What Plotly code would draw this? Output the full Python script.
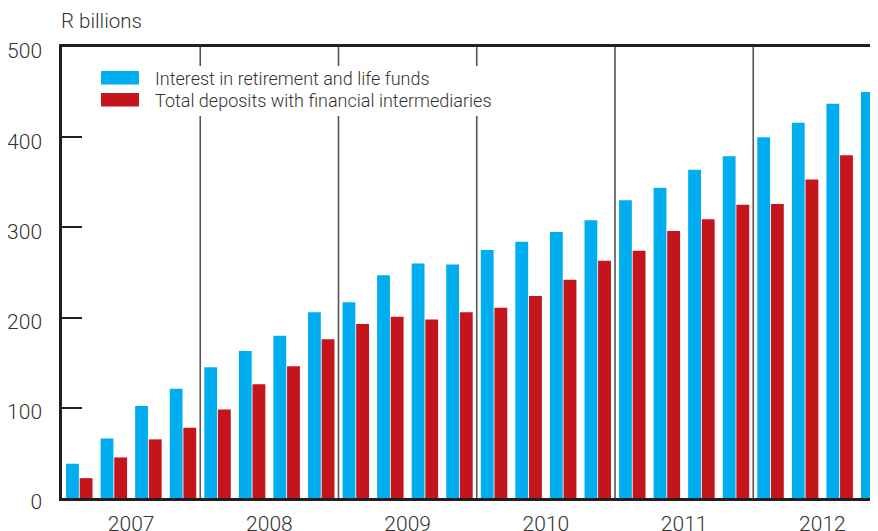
import plotly.graph_objects as go

years = ["2007", "2008", "2009", "2010", "2011", "2012"]
quarters_per_year = 4
retirement_funds = [38, 66, 102, 121, 145, 163, 180, 206,
                    217, 247, 260, 259, 275, 284, 295, 308,
                    330, 344, 364, 379, 400, 416, 437, 450]
total_deposits = [22, 45, 65, 78, 98, 126, 146, 176,
                  193, 201, 198, 206, 211, 224, 242, 263,
                  274, 296, 309, 325, 326, 353, 380, 397]
y_ticks = [0, 100, 200, 300, 400, 500]
series_names = ["Interest in retirement and life funds",
                "Total deposits with financial intermediaries"]

BLUE = "#00AEEF"
RED = "#C4141C"
DARK = "#231F20"
TEXT = "#333333"
FONT = "Roboto"
WEIGHT = 300

x = list(range(len(retirement_funds)))

fig = go.Figure()
fig.add_trace(go.Bar(x=x, y=retirement_funds, name=series_names[0],
                     marker=dict(color=BLUE, line=dict(width=0)), showlegend=False))
fig.add_trace(go.Bar(x=x, y=total_deposits, name=series_names[1],
                     marker=dict(color=RED, line=dict(width=0)), showlegend=False))

# the page body has an 8px margin, so the figure sits at (8, 8)
OFF = 8
VW, VH = 878, 531
W, H = VW - OFF, VH - OFF
PL, PT, PB = 62, 47, 498          # plot edges in picture pixels
L, T, B = PL - OFF, PT - OFF, VH - PB
PW, PH = W - L, H - T - B
quarter_px = 138.25 / 4
x_end = -0.5 + (VW - PL) / quarter_px

def px_x(p):
    return (p - PL) / PW
def px_y(p):
    return 1 - (p - PT) / PH

shapes = []
for i in range(1, len(years)):
    xs = i * quarters_per_year - 0.5
    shapes.append(dict(type="line", xref="x", yref="y", x0=xs, x1=xs, y0=0, y1=500,
                       line=dict(color="#555555", width=1.6), layer="above"))
shapes.append(dict(type="rect", xref="paper", yref="paper",
                   x0=px_x(92), x1=px_x(497), y0=px_y(116), y1=px_y(66),
                   fillcolor="white", line=dict(width=0), layer="above"))
for (c, y0, y1) in [(BLUE, 71, 84.5), (RED, 93, 106.5)]:
    shapes.append(dict(type="rect", xref="paper", yref="paper",
                       x0=px_x(101), x1=px_x(139), y0=px_y(y1), y1=px_y(y0),
                       fillcolor=c, line=dict(width=0), layer="above"))

annotations = []
for name, yc in zip(series_names, [78, 100]):
    annotations.append(dict(xref="paper", yref="paper", x=px_x(153), y=px_y(yc),
                            xanchor="left", yanchor="middle", showarrow=False,
                            text=name,
                            font=dict(family=FONT, size=18, color=TEXT, weight=WEIGHT)))
annotations.append(dict(xref="paper", yref="paper", x=px_x(59), y=px_y(21),
                        xanchor="left", yanchor="middle", showarrow=False,
                        text="R billions",
                        font=dict(family=FONT, size=20.5, color=TEXT, weight=WEIGHT)))

fig.update_layout(
    width=W, height=H,
    margin=dict(l=L, r=0, t=T, b=B, pad=0, autoexpand=False),
    plot_bgcolor="white", paper_bgcolor="white",
    barmode="group", bargap=0.21, bargroupgap=0.06,
    shapes=shapes, annotations=annotations,
    font=dict(family=FONT, color=TEXT, weight=WEIGHT),
)
fig.update_xaxes(
    range=[-0.5, x_end],
    tickvals=[i * quarters_per_year + 1.5 for i in range(len(years))],
    ticktext=years, ticks="", showgrid=False, zeroline=False,
    showline=True, mirror=True, linecolor=DARK, linewidth=2.5,
    tickfont=dict(family=FONT, size=21, color=TEXT, weight=WEIGHT),
    ticklabelstandoff=5, automargin=False,
)
fig.update_yaxes(
    range=[0, 500], tickvals=y_ticks,
    ticks="inside", ticklen=20, tickwidth=2, tickcolor=DARK,
    showgrid=False, zeroline=False,
    showline=True, linecolor=DARK, linewidth=2.5,
    tickfont=dict(family=FONT, size=21, color=TEXT, weight=WEIGHT),
    ticklabelstandoff=13, ticklabelshift=4, automargin=False,
)

fig.write_html("out.html")
